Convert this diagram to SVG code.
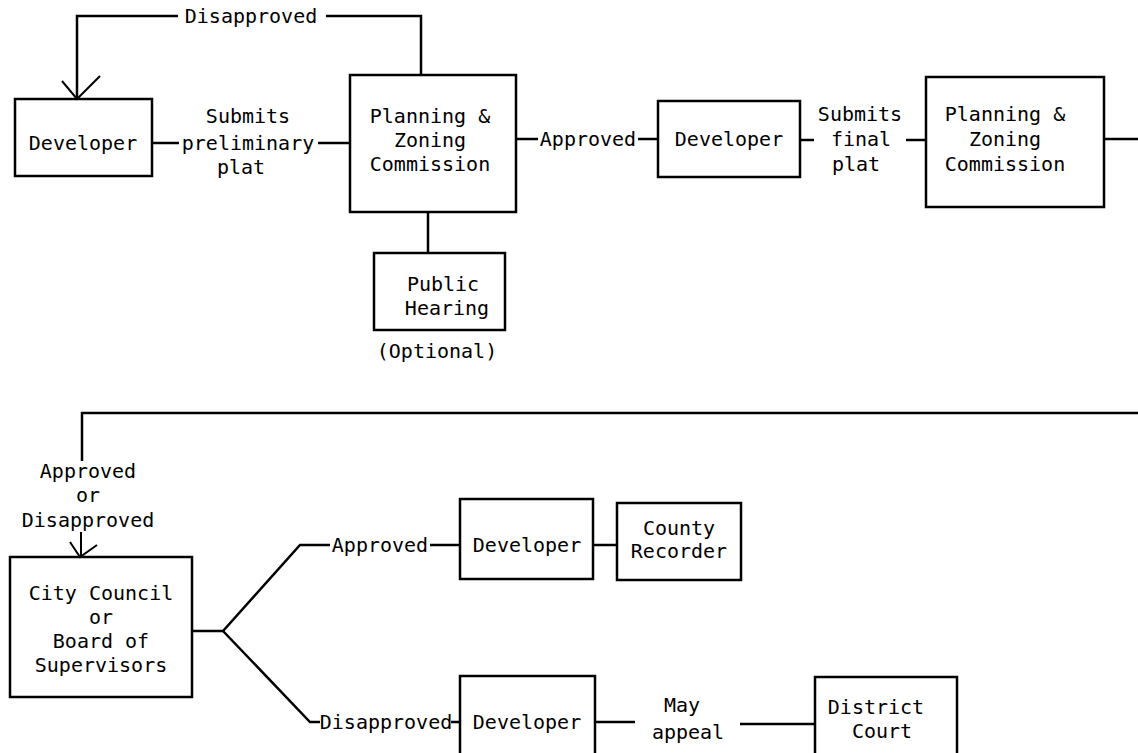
<svg xmlns="http://www.w3.org/2000/svg" width="1138" height="753" viewBox="0 0 1138 753">
<style>
.box{fill:none;stroke:#000;stroke-width:2.5}
.ln{fill:none;stroke:#000;stroke-width:2.5}
.thin{fill:none;stroke:#000;stroke-width:2}
text{font-family:"DejaVu Sans Mono","Liberation Mono",monospace;font-size:20px;fill:#000;text-anchor:middle}
</style>
<rect width="1138" height="753" fill="#fff"/>
<g id="connectors">
<path class="ln" d="M421,75 V16 H326"/>
<path class="ln" d="M178,16 H77 V99"/>
<path class="thin" d="M62,81 L77,99 L100,76"/>
<path class="ln" d="M152,143 H179"/>
<path class="ln" d="M318,143 H350"/>
<path class="ln" d="M516,139 H538"/>
<path class="ln" d="M638,139 H658"/>
<path class="ln" d="M800,140 H814"/>
<path class="ln" d="M906,140 H926"/>
<path class="ln" d="M1104,139 H1138"/>
<path class="ln" d="M428,212 V253"/>
<path class="ln" d="M1138,413 H82 V461"/>
<path class="thin" d="M70,542 L80,557 L97,545 M81,532 V557"/>
<path class="ln" d="M193,631 H223 L300,545 H330"/>
<path class="ln" d="M223,631 L310,722 H320"/>
<path class="ln" d="M430,545 H460"/>
<path class="ln" d="M593,545 H617"/>
<path class="ln" d="M451,722 H460"/>
<path class="ln" d="M595,722 H635"/>
<path class="ln" d="M740,724 H815"/>
</g>
<g id="label-disapproved1"><text x="251" y="23">Disapproved</text></g>
<g id="label-submits1"><text x="248" y="123">Submits</text><text x="248" y="150">preliminary</text><text x="241" y="174">plat</text></g>
<g id="label-approved1"><text x="588" y="146">Approved</text></g>
<g id="label-submits2"><text x="860" y="121">Submits</text><text x="861" y="146">final</text><text x="856" y="171">plat</text></g>
<g id="label-optional"><text x="437" y="358">(Optional)</text></g>
<g id="label-aod"><text x="88" y="478">Approved</text><text x="88" y="502">or</text><text x="88" y="527">Disapproved</text></g>
<g id="label-approved2"><text x="380" y="552">Approved</text></g>
<g id="label-disapproved2"><text x="386" y="729">Disapproved</text></g>
<g id="label-appeal"><text x="682" y="712">May</text><text x="688" y="739">appeal</text></g>
<g id="developer1"><rect class="box" x="15" y="99" width="137" height="77"/><text x="83" y="150">Developer</text></g>
<g id="pz1"><rect class="box" x="350" y="75" width="166" height="137"/><text x="430" y="123">Planning &amp;</text><text x="430" y="147">Zoning</text><text x="430" y="171">Commission</text></g>
<g id="developer2"><rect class="box" x="658" y="101" width="142" height="76"/><text x="729" y="146">Developer</text></g>
<g id="pz2"><rect class="box" x="926" y="77" width="178" height="130"/><text x="1005" y="121">Planning &amp;</text><text x="1005" y="146">Zoning</text><text x="1005" y="171">Commission</text></g>
<g id="public-hearing"><rect class="box" x="374" y="253" width="131" height="77"/><text x="443" y="291">Public</text><text x="447" y="315">Hearing</text></g>
<g id="city-council"><rect class="box" x="10" y="557" width="182" height="140"/><text x="101" y="600">City Council</text><text x="101" y="624">or</text><text x="101" y="648">Board of</text><text x="101" y="672">Supervisors</text></g>
<g id="developer3"><rect class="box" x="460" y="499" width="133" height="80"/><text x="527" y="552">Developer</text></g>
<g id="county-recorder"><rect class="box" x="617" y="503" width="124" height="77"/><text x="679" y="535">County</text><text x="679" y="558">Recorder</text></g>
<g id="developer4"><rect class="box" x="460" y="676" width="135" height="90"/><text x="527" y="729">Developer</text></g>
<g id="district-court"><rect class="box" x="815" y="677" width="142" height="90"/><text x="876" y="714">District</text><text x="882" y="738">Court</text></g>
</svg>
